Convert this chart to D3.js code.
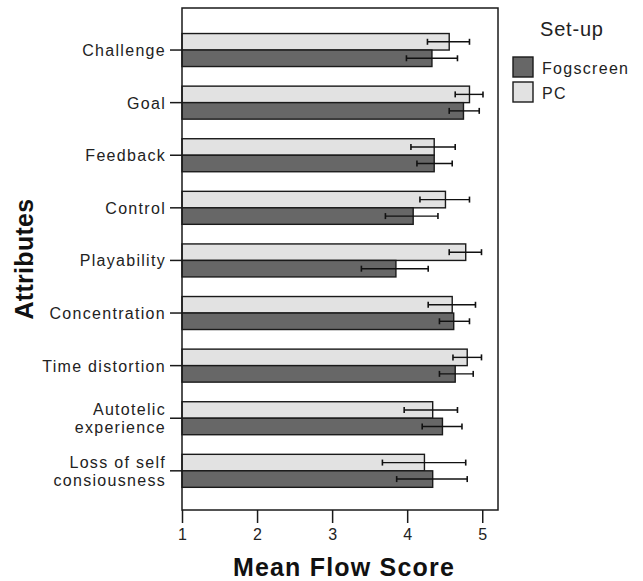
<!DOCTYPE html>
<html>
<head>
<meta charset="utf-8">
<script src="https://cdn.jsdelivr.net/npm/d3@7"></script>
<style>
  html, body { margin: 0; padding: 0; background: #ffffff; }
  svg { display: block; font-family: "Liberation Sans", Arial, sans-serif; }
</style>
</head>
<body>
<svg id="chart" width="643" height="581"></svg>
<script>
// ---- Data ----
const categories = [
  ["Challenge"],
  ["Goal"],
  ["Feedback"],
  ["Control"],
  ["Playability"],
  ["Concentration"],
  ["Time distortion"],
  ["Autotelic", "experience"],
  ["Loss of self", "consiousness"]
];
const seriesNames = ["PC", "Fogscreen"];
const legendOrder = ["Fogscreen", "PC"];

const pcMean   = [4.56, 4.83, 4.36, 4.51, 4.78, 4.60, 4.80, 4.34, 4.23];
const pcLow    = [4.27, 4.64, 4.05, 4.17, 4.56, 4.28, 4.61, 3.96, 3.67];
const pcHigh   = [4.83, 5.01, 4.64, 4.83, 4.99, 4.91, 4.99, 4.67, 4.78];

const fogMean  = [4.33, 4.75, 4.36, 4.08, 3.85, 4.62, 4.64, 4.47, 4.34];
const fogLow   = [3.99, 4.56, 4.13, 3.71, 3.39, 4.43, 4.43, 4.20, 3.86];
const fogHigh  = [4.67, 4.96, 4.60, 4.41, 4.28, 4.83, 4.88, 4.73, 4.80];

const xTicks = [1, 2, 3, 4, 5];

// ---- Layout ----
const plot = { left: 182, right: 498, top: 8, bottom: 510 };
const colors = { "Fogscreen": "#676767", "PC": "#e2e2e2" };

const svg = d3.select("#chart");

const catKeys = categories.map(c => c.join(" "));
const x = d3.scaleLinear().domain([1, 5.21]).range([plot.left, plot.right]);
const y = d3.scaleBand().domain(catKeys).range([plot.top, plot.bottom])
  .paddingInner(0).paddingOuter(0.272).align(0.55);
const ySub = d3.scaleBand().domain(seriesNames).range([0, y.bandwidth()])
  .paddingInner(0).paddingOuter(0.594);

const rows = [];
catKeys.forEach((k, i) => {
  rows.push({ cat: k, series: "PC", mean: pcMean[i], lo: pcLow[i], hi: pcHigh[i] });
  rows.push({ cat: k, series: "Fogscreen", mean: fogMean[i], lo: fogLow[i], hi: fogHigh[i] });
});

// Bars
const g = svg.append("g");
g.selectAll("rect.bar").data(rows).join("rect")
  .attr("class", "bar")
  .attr("x", x(1))
  .attr("y", d => y(d.cat) + ySub(d.series))
  .attr("width", d => x(d.mean) - x(1))
  .attr("height", ySub.bandwidth())
  .attr("fill", d => colors[d.series])
  .attr("stroke", "#1a1a1a")
  .attr("stroke-width", 1.4);

// Error bars
const capH = 3;
const eb = g.selectAll("g.err").data(rows).join("g").attr("class", "err")
  .attr("transform", d => `translate(0,${y(d.cat) + ySub(d.series) + ySub.bandwidth() / 2})`);
eb.append("line").attr("x1", d => x(d.lo)).attr("x2", d => x(d.hi))
  .attr("stroke", "#111").attr("stroke-width", 1.4);
eb.append("line").attr("x1", d => x(d.lo)).attr("x2", d => x(d.lo))
  .attr("y1", -capH).attr("y2", capH).attr("stroke", "#111").attr("stroke-width", 1.6);
eb.append("line").attr("x1", d => x(d.hi)).attr("x2", d => x(d.hi))
  .attr("y1", -capH).attr("y2", capH).attr("stroke", "#111").attr("stroke-width", 1.6);

// Frame
svg.append("rect")
  .attr("x", plot.left).attr("y", plot.top)
  .attr("width", plot.right - plot.left).attr("height", plot.bottom - plot.top)
  .attr("fill", "none").attr("stroke", "#1a1a1a").attr("stroke-width", 1.5);

// X axis
const xAxis = svg.append("g")
  .attr("transform", `translate(0,${plot.bottom})`)
  .call(d3.axisBottom(x).tickValues(xTicks).tickSize(13).tickPadding(6).tickFormat(d3.format("d")));
xAxis.select(".domain").remove();
xAxis.selectAll("line").attr("stroke", "#1a1a1a").attr("stroke-width", 1.5);
xAxis.selectAll("text").attr("font-size", 16).attr("fill", "#222")
  .attr("font-family", "'Liberation Sans', Arial, sans-serif");

// Y axis
const yAxis = svg.append("g")
  .attr("transform", `translate(${plot.left},0)`)
  .call(d3.axisLeft(y).tickSize(12).tickPadding(4).tickFormat(""));
yAxis.select(".domain").remove();
yAxis.selectAll("line").attr("stroke", "#1a1a1a").attr("stroke-width", 1.5);

// Y labels (multi-line)
const labelX = plot.left - 16;
categories.forEach((lines, i) => {
  const cy = y(catKeys[i]) + y.bandwidth() / 2;
  const t = svg.append("text")
    .attr("text-anchor", "end")
    .attr("font-size", 16)
    .attr("letter-spacing", 1.3)
    .attr("fill", "#222");
  if (lines.length === 1) {
    t.append("tspan").attr("x", labelX).attr("y", cy + 6).text(lines[0]);
  } else {
    t.append("tspan").attr("x", labelX).attr("y", cy - 3).text(lines[0]);
    t.append("tspan").attr("x", labelX).attr("y", cy + 15).text(lines[1]);
  }
});

// Axis titles
svg.append("text")
  .attr("x", (plot.left + plot.right) / 2 + 4)
  .attr("y", 576)
  .attr("text-anchor", "middle")
  .attr("font-size", 25)
  .attr("font-weight", "bold")
  .attr("letter-spacing", 1.2)
  .attr("fill", "#111")
  .text("Mean Flow Score");

svg.append("text")
  .attr("transform", `translate(33,${(plot.top + plot.bottom) / 2}) rotate(-90)`)
  .attr("text-anchor", "middle")
  .attr("font-size", 25)
  .attr("font-weight", "bold")
  .attr("letter-spacing", 0.3)
  .attr("fill", "#111")
  .text("Attributes");

// Legend
const legend = svg.append("g").attr("transform", "translate(513,0)");
legend.append("text")
  .attr("x", 27).attr("y", 36)
  .attr("font-size", 20)
  .attr("letter-spacing", 0.8)
  .attr("fill", "#222")
  .text("Set-up");
const li = legend.selectAll("g.item").data(legendOrder).join("g")
  .attr("class", "item")
  .attr("transform", (d, i) => `translate(0,${57 + i * 25})`);
li.append("rect")
  .attr("width", 20).attr("height", 20)
  .attr("fill", d => colors[d])
  .attr("stroke", "#1a1a1a").attr("stroke-width", 1.4);
li.append("text")
  .attr("x", 29).attr("y", 17)
  .attr("font-size", 16)
  .attr("letter-spacing", 1.3)
  .attr("fill", "#222")
  .text(d => d);
</script>
</body>
</html>
